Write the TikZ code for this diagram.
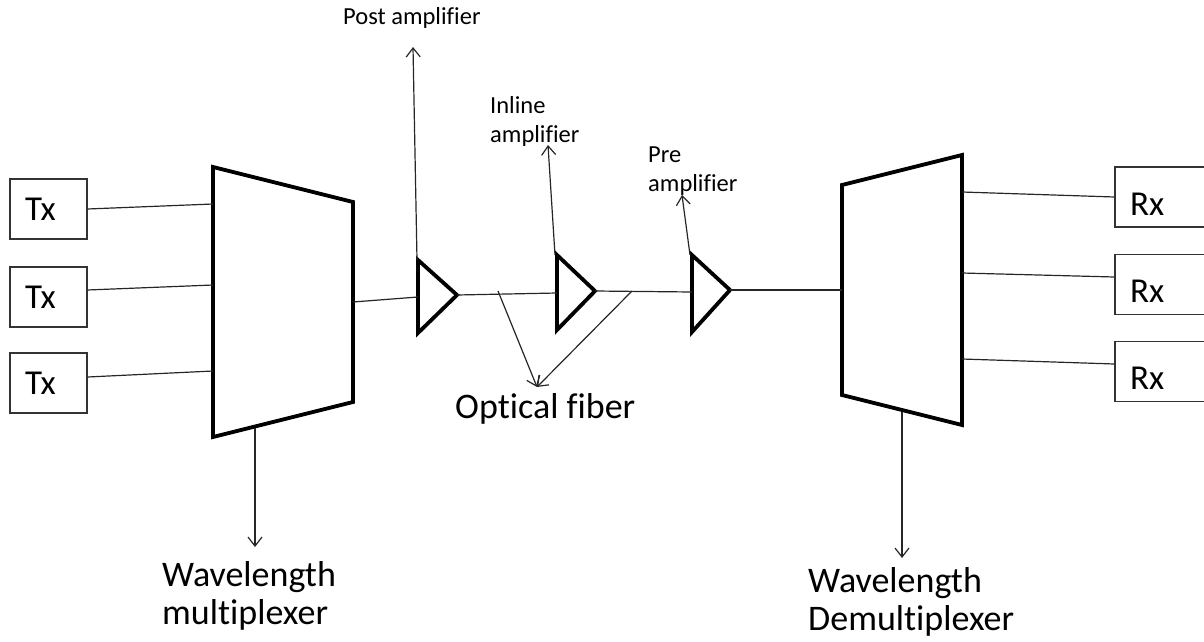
\documentclass[tikz,border=0pt]{standalone}
\usepackage{fontspec}
\setmainfont{Carlito}[Ligatures=NoCommon]
\usetikzlibrary{
    arrows.meta,
    positioning
}

\tikzset{
    unitbox/.style={draw=black!80, line width=1.2pt, minimum height=60pt,
        inner ysep=0pt, inner xsep=15pt, align=left,
        font=\fontsize{35}{40}\selectfont},
    wire/.style={line width=1.2pt, black!85},
    blockedge/.style={line width=3.8pt, line join=miter},
    pointer/.style={line width=1.2pt, black!85,
        -{Straight Barb[length=9pt, width=14pt, line width=1.2pt]}},
    biglabel/.style={inner sep=0pt, align=left, font=\fontsize{36}{38}\selectfont},
    smalllabel/.style={inner sep=0pt, align=left, font=\fontsize{24.5}{29}\selectfont}
}

\begin{document}
\begin{tikzpicture}[x=1pt, y=-1pt]
    \useasboundingbox (0,0) rectangle (1204,642);

    % transmitters and receivers
    \node[unitbox, text width=47pt] (tx1) at (48.5,209) {Tx};
    \node[unitbox, text width=47pt] (tx2) at (48.5,297) {Tx};
    \node[unitbox, text width=47pt] (tx3) at (48.5,383) {Tx};

    \node[unitbox, text width=70pt, text height=36pt] (rx1) at (1165,197)   {Rx};
    \node[unitbox, text width=70pt, text height=36pt] (rx2) at (1165,284.5) {Rx};
    \node[unitbox, text width=70pt, text height=36pt] (rx3) at (1165,371.5) {Rx};

    % multiplexer and demultiplexer
    \coordinate (mux-tl) at (213,167);
    \coordinate (mux-tr) at (353,202);
    \coordinate (mux-br) at (353,402);
    \coordinate (mux-bl) at (213,437);
    \draw[blockedge] (mux-tl) -- (mux-tr) -- (mux-br) -- (mux-bl) -- cycle;

    \coordinate (dmx-tl) at (842,185);
    \coordinate (dmx-tr) at (962,155);
    \coordinate (dmx-br) at (962,425);
    \coordinate (dmx-bl) at (842,395);
    \draw[blockedge] (dmx-tl) -- (dmx-tr) -- (dmx-br) -- (dmx-bl) -- cycle;

    % amplifiers
    \foreach \amp/\lx/\ty/\by/\tx/\tipy in {amp1/418/260/333/457/295,
                                            amp2/557/255/330/595/291,
                                            amp3/692/255/332/730/290} {
        \coordinate (\amp-top) at (\lx,\ty);
        \coordinate (\amp-bot) at (\lx,\by);
        \coordinate (\amp-tip) at (\tx,\tipy);
        \draw[blockedge] (\amp-top) -- (\amp-tip) -- (\amp-bot) -- cycle;
    }

    % links
    \coordinate (mux-in1) at (213,204);
    \coordinate (mux-in2) at (213,285);
    \coordinate (mux-in3) at (213,371);
    \coordinate (mux-out) at (353,302);
    \coordinate (amp1-in) at (418,297);
    \coordinate (amp2-in) at (557,293);
    \coordinate (amp3-in) at (692,292);
    \coordinate (dmx-in)  at (842,290);
    \coordinate (dmx-out1) at (962,192);
    \coordinate (dmx-out2) at (962,273);
    \coordinate (dmx-out3) at (962,359);

    \draw[wire] (tx1.east) -- (mux-in1);
    \draw[wire] ([yshift=7pt]tx2.east) -- (mux-in2);
    \draw[wire] ([yshift=6pt]tx3.east) -- (mux-in3);
    \draw[wire] (mux-out) -- (amp1-in);
    \draw[wire] (amp1-tip) -- (amp2-in);
    \draw[wire] (amp2-tip) -- (amp3-in);
    \draw[wire] (amp3-tip) -- (dmx-in);
    \draw[wire] (dmx-out1) -- (rx1.west);
    \draw[wire] (dmx-out2) -- ([yshift=7.5pt]rx2.west);
    \draw[wire] (dmx-out3) -- ([yshift=7.5pt]rx3.west);

    % labels (base = last line)
    \node[smalllabel, anchor=base west] (postlbl)   at (343,25)  {Post amplifier};
    \node[smalllabel, anchor=base west] (inlinelbl) at (490,142) {Inline\\amplifier};
    \node[smalllabel, anchor=base west] (prelbl)    at (648,191) {Pre\\amplifier};
    \node[biglabel, anchor=base west]   (fiberlbl)  at (455,418) {Optical fiber};
    \node[biglabel, anchor=base west]   (muxlbl)    at (162,624) {Wavelength\\multiplexer};
    \node[biglabel, anchor=base west]   (dmxlbl)    at (808,630) {Wavelength\\Demultiplexer};

    % pointers
    \coordinate (post-tip)   at (413,47);
    \coordinate (inline-tip) at (548,145);
    \coordinate (pre-tip)    at (682,195);
    \coordinate (fiber-tip)  at (537,387);
    \coordinate (fiber-a)    at (498,291);
    \coordinate (fiber-b)    at (632,291);
    \coordinate (mux-foot)   at (255,428);
    \coordinate (mux-tip)    at (255,547);
    \coordinate (dmx-foot)   at (902,412);
    \coordinate (dmx-tip)    at (902,558);

    \draw[pointer] ([xshift=-1pt]amp1-top) -- (post-tip);
    \draw[pointer] ([xshift=-2pt]amp2-top) -- (inline-tip);
    \draw[pointer] ([xshift=-2pt]amp3-top) -- (pre-tip);
    \draw[pointer] (fiber-a) -- (fiber-tip);
    \draw[pointer] (fiber-b) -- (fiber-tip);
    \draw[pointer] (mux-foot) -- (mux-tip);
    \draw[pointer] (dmx-foot) -- (dmx-tip);
\end{tikzpicture}
\end{document}
